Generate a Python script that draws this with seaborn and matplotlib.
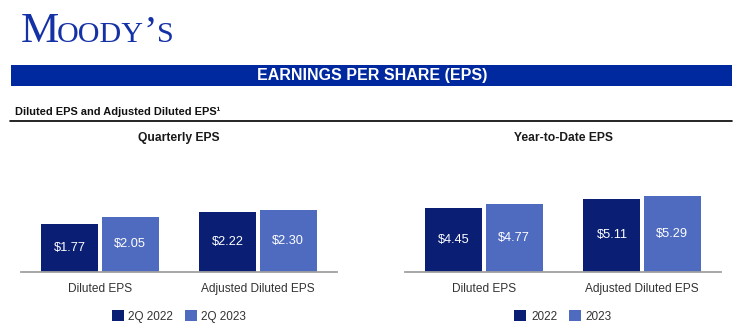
import matplotlib
matplotlib.use("Agg")
import matplotlib.pyplot as plt
from matplotlib import font_manager
from matplotlib.patches import Rectangle
from matplotlib.lines import Line2D
import pandas as pd
import seaborn as sns

# ---- data -------------------------------------------------------------
categories = ["Diluted EPS", "Adjusted Diluted EPS"]

quarter_periods = ["2Q 2022", "2Q 2023"]
quarter_2022 = [1.77, 2.22]
quarter_2023 = [2.05, 2.30]

ytd_periods = ["2022", "2023"]
ytd_2022 = [4.45, 5.11]
ytd_2023 = [4.77, 5.29]

panel_titles = ["Quarterly EPS", "Year-to-Date EPS"]

# ---- style ------------------------------------------------------------
sns.set_theme(style="white")
plt.rcParams["font.family"] = ["Liberation Sans", "DejaVu Sans"]

DARK = "#0a1f74"
LIGHT = "#4f6bbf"
BANNER = "#0029a0"
LOGO = "#1431a6"
TEXT = "#333333"

W, H = 741, 329
fig = plt.figure(figsize=(W / 100, H / 100), dpi=100)
fig.patch.set_facecolor("white")


def fx(px):
    return px / W


def fy(py):
    return 1 - py / H


# ---- header: logo, banner, subtitle -----------------------------------
logo_parts = [("M", 31.0, 20.5), ("OODY", 21.6, 57.0), ("\u2019", 29.0, 143.5), ("S", 21.6, 157.0)]
for txt, size, x0 in logo_parts:
    fig.text(fx(x0), fy(42.3), txt, fontsize=size, color=LOGO,
             family=["Liberation Serif", "DejaVu Serif"], ha="left", va="baseline")

fig.patches.append(Rectangle((fx(11), fy(85.7)), fx(732) - fx(11), fy(65) - fy(85.7),
                             transform=fig.transFigure, facecolor=BANNER, edgecolor="none"))
fig.text(fx(372.5), fy(75.6), "EARNINGS PER SHARE (EPS)", color="white",
         fontsize=11.5, fontweight="bold", ha="center", va="center")

available = {f.name for f in font_manager.fontManager.ttflist}
if "Liberation Sans Narrow" in available:
    sub_family, sub_size = ["Liberation Sans Narrow", "DejaVu Sans"], 9.4
else:
    sub_family, sub_size = ["Liberation Sans", "DejaVu Sans"], 7.9
fig.text(fx(15), fy(112), "Diluted EPS and Adjusted Diluted EPS\u00b9", color="#111111",
         fontsize=sub_size, fontweight="bold", family=sub_family, ha="left", va="center")

fig.lines.append(Line2D([fx(10), fx(732)], [fy(121.3), fy(121.3)], transform=fig.transFigure,
                        color="black", lw=1.2))

# ---- panels -----------------------------------------------------------
panels = [
    (quarter_periods, quarter_2022, quarter_2023, 21, 4.54),
    (ytd_periods, ytd_2022, ytd_2023, 405, 8.53),
]

bottom = (H - 271.7) / H
height = 121.7 / H
width = 316 / W

for (periods, first, second, left_px, ymax), title in zip(panels, panel_titles):
    df = pd.DataFrame({
        "category": categories * 2,
        "period": [periods[0]] * len(categories) + [periods[1]] * len(categories),
        "eps": list(first) + list(second),
    })
    ax = fig.add_axes([left_px / W, bottom, width, height])
    sns.barplot(data=df, x="category", y="eps", hue="period", order=categories,
                hue_order=periods, palette=[DARK, LIGHT], width=0.76, gap=0.05,
                saturation=1, edgecolor="none", linewidth=0, ax=ax, legend=True)
    ax.set_xlim(-0.5, len(categories) - 0.5)
    ax.set_ylim(0, ymax)
    ax.set_xlabel("")
    ax.set_ylabel("")
    ax.set_yticks([])
    for side in ("top", "left", "right"):
        ax.spines[side].set_visible(False)
    ax.spines["bottom"].set_color("#a0a0a0")
    ax.spines["bottom"].set_linewidth(1.3)
    ax.tick_params(axis="x", length=0, pad=8, labelsize=8.6, labelcolor=TEXT)
    ax.set_facecolor("none")

    for container in ax.containers:
        ax.bar_label(container, labels=[f"${v:.2f}" for v in container.datavalues],
                     label_type="center", color="white", fontsize=9.2)

    handles, labels = ax.get_legend_handles_labels()
    ax.legend(handles, labels, loc="center", bbox_to_anchor=(0.5, (-316.5 + 271.7) / 121.7),
              ncol=2, frameon=False, fontsize=8.5, handlelength=1.0, handleheight=1.0,
              handletextpad=0.4, columnspacing=1.0, labelcolor=TEXT, borderaxespad=0)

    fig.text(fx(left_px + 158), fy(138.3), title, fontsize=8.7, fontweight="bold",
             color="#1a1a1a", ha="center", va="center")

fig.savefig("out.png", dpi=100, facecolor="white")
